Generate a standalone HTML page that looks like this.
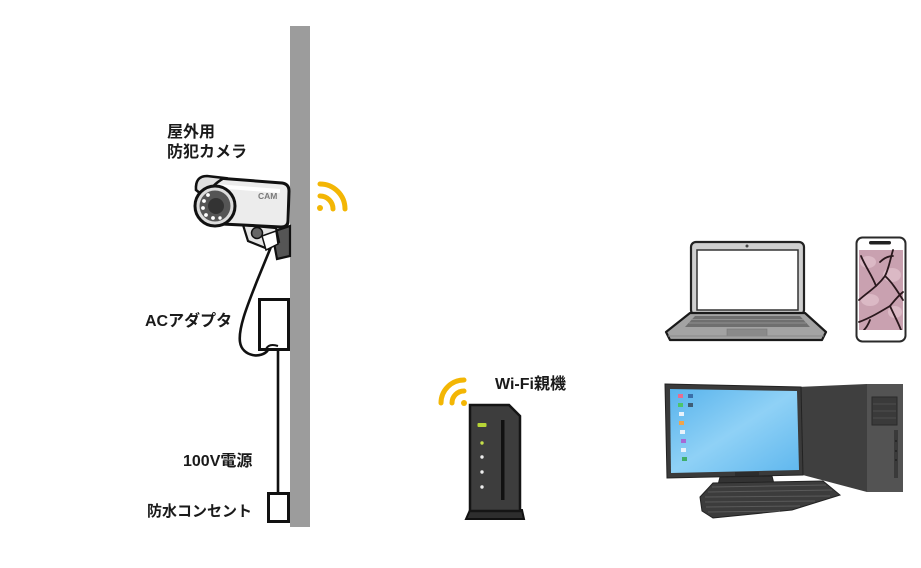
<!DOCTYPE html>
<html><head><meta charset="utf-8">
<style>
html,body{margin:0;padding:0;background:#fff;}
svg{display:block;}
text{font-family:"Liberation Sans","Noto Sans CJK JP",sans-serif;fill:#1a1a1a;font-weight:700;}
</style></head>
<body>
<svg width="921" height="568" viewBox="0 0 921 568" xmlns="http://www.w3.org/2000/svg">
<rect width="921" height="568" fill="#fff"/>
<!-- wall -->
<rect x="290" y="26" width="20" height="501" fill="#9c9c9c"/>

<!-- labels -->
<text x="167" y="137" font-size="16">屋外用</text>
<text x="167" y="157" font-size="16">防犯カメラ</text>
<text x="145" y="326" font-size="16">ACアダプタ</text>
<text x="183" y="466" font-size="16">100V電源</text>
<text x="147" y="516" font-size="15">防水コンセント</text>
<text x="495" y="389" font-size="16">Wi-Fi親機</text>

<!-- cable -->
<path d="M275,237 L257,281 C248,304 238,328 240,342 C242,357 262,359 268,350" fill="none" stroke="#111" stroke-width="2.6"/>
<line x1="278" y1="349" x2="278" y2="494" stroke="#111" stroke-width="2.6"/>
<rect x="259.5" y="299.5" width="29" height="50" fill="#fff" stroke="#111" stroke-width="3"/>
<path d="M266,349 C268,345 272,344 278,346" fill="none" stroke="#111" stroke-width="2"/>
<rect x="268.5" y="493.5" width="20" height="28" fill="#fff" stroke="#111" stroke-width="3"/>

<!-- camera mount -->
<polygon points="272,232 290,226 290,256 277,259" fill="#555" stroke="#111" stroke-width="2.2"/>
<polygon points="243,225 276,228 279,242 268,249 248,241" fill="#e6e6e6" stroke="#111" stroke-width="2.2"/>
<polygon points="262,236 276,231 278,244 266,250" fill="#fff" stroke="#111" stroke-width="1.5"/>
<circle cx="257" cy="233" r="5.5" fill="#666" stroke="#111" stroke-width="1.5"/>
<!-- camera housing -->
<path d="M204,177 L282,183 Q289,184 289,191 L288,221 Q288,227 281,227 L222,224 L210,214 Z" fill="#ececec" stroke="#111" stroke-width="3"/>
<path d="M215,186 L280,191" stroke="#fff" stroke-width="4"/>
<path d="M196,190 Q195,176 207,176 L224,178 Q210,186 206,198 Z" fill="#e0e0e0" stroke="#111" stroke-width="2.6"/>
<circle cx="215" cy="206" r="20" fill="#dcdcdc" stroke="#111" stroke-width="3"/>
<circle cx="215" cy="206" r="15.5" fill="#555"/>
<circle cx="216" cy="206" r="8" fill="#333"/>
<g fill="#fff">
<circle cx="204" cy="201" r="1.9"/><circle cx="203" cy="208" r="1.9"/><circle cx="206" cy="215" r="1.9"/>
<circle cx="213" cy="218" r="1.9"/><circle cx="208" cy="195" r="1.9"/><circle cx="220" cy="218" r="1.7"/>
</g>
<text x="258" y="199" font-size="8.5" style="fill:#7a7a7a;font-weight:700">CAM</text>

<!-- wifi camera -->
<g fill="none" stroke="#f3b604" stroke-width="5" stroke-linecap="round">
<path d="M320,196 A13,13 0 0 1 333,209"/>
<path d="M320,184 A25,25 0 0 1 345,209"/>
</g>
<circle cx="320" cy="208" r="3" fill="#f3b604"/>

<!-- wifi router icon -->
<g fill="none" stroke="#f3b604" stroke-width="5" stroke-linecap="round">
<path d="M452,403 A12,12 0 0 1 464,391"/>
<path d="M441,403 A23,23 0 0 1 464,380"/>
</g>
<circle cx="464" cy="403" r="3" fill="#f3b604"/>

<!-- router -->
<polygon points="466,519 470,510 522,510 524,519" fill="#2e2e2e" stroke="#111" stroke-width="2"/>
<polygon points="470,405 509,405 520,416 520,511 470,511" fill="#3d3d3d" stroke="#151515" stroke-width="2.5"/>
<rect x="501" y="420" width="3.5" height="80" fill="#111"/>
<rect x="477.5" y="423" width="9" height="4" rx="1" fill="#b7d536"/>
<circle cx="482" cy="443" r="1.7" fill="#c6e04a"/>
<circle cx="482" cy="457" r="1.7" fill="#eee"/>
<circle cx="482" cy="472" r="1.7" fill="#eee"/>
<circle cx="482" cy="487" r="1.7" fill="#eee"/>

<!-- laptop -->
<rect x="691" y="242" width="113" height="73" rx="5" fill="#cfcfcf" stroke="#222" stroke-width="2.2"/>
<rect x="697" y="250" width="101" height="60" fill="#fff" stroke="#333" stroke-width="1.5"/>
<circle cx="747" cy="246" r="1.5" fill="#444"/>
<polygon points="690,313 805,313 826,332 822,340 670,340 666,332" fill="#a3a3a3" stroke="#1a1a1a" stroke-width="2.2" stroke-linejoin="round"/>
<polygon points="695,316 800,316 810,327 685,327" fill="#6f6f6f"/>
<g stroke="#9a9a9a" stroke-width="0.8">
<line x1="692" y1="319.5" x2="803" y2="319.5"/><line x1="689" y1="323" x2="806" y2="323"/>
</g>
<rect x="727" y="329" width="40" height="7" fill="#8a8a8a" stroke="#777" stroke-width="0.6"/>
<line x1="668" y1="336" x2="824" y2="336" stroke="#888" stroke-width="1"/>

<!-- phone -->
<rect x="856.5" y="237.5" width="49" height="104" rx="6" fill="#fff" stroke="#2a2a2a" stroke-width="2"/>
<rect x="869" y="241" width="22" height="3.5" rx="1.7" fill="#222"/>
<rect x="859" y="250" width="44" height="80" fill="#c9a1b0"/>
<g fill="#e0bfcb" opacity="0.8">
<ellipse cx="868" cy="262" rx="8" ry="6"/><ellipse cx="892" cy="275" rx="9" ry="7"/>
<ellipse cx="870" cy="300" rx="9" ry="6"/><ellipse cx="895" cy="312" rx="7" ry="6"/>
</g>
<g fill="none" stroke="#2a181d" stroke-width="1.8" stroke-linecap="round">
<path d="M859,300 C868,292 878,286 885,276 C889,268 890,260 893,250"/>
<path d="M885,276 C892,282 898,292 903,300"/>
<path d="M876,286 C872,275 866,268 861,256"/>
<path d="M859,322 C870,318 880,312 890,306 C895,300 898,296 903,292"/>
<path d="M890,306 C894,315 898,322 901,330"/>
<path d="M870,320 C868,325 866,328 864,330"/>
<path d="M880,262 C884,258 888,256 893,256"/>
</g>
<rect x="859" y="330" width="44" height="9" fill="#fff"/>

<!-- tower -->
<polygon points="797,387 867,384 867,492 799,474" fill="#3f3f3f"/>
<rect x="867" y="384" width="36" height="108" fill="#535353"/>
<rect x="872" y="397" width="25" height="28" fill="#3a3a3a" stroke="#2a2a2a" stroke-width="1"/>
<g stroke="#555" stroke-width="0.8"><line x1="873" y1="404" x2="896" y2="404"/><line x1="873" y1="411" x2="896" y2="411"/><line x1="873" y1="418" x2="896" y2="418"/></g>
<rect x="894" y="430" width="4" height="48" fill="#3a3a3a"/>
<g fill="#222"><circle cx="896" cy="441" r="1"/><circle cx="896" cy="451" r="1"/><circle cx="896" cy="460" r="1"/></g>

<!-- desktop monitor -->
<polygon points="665,384 801,387 803,475 667,478" fill="#3a3a3a" stroke="#222" stroke-width="1"/>
<defs>
<linearGradient id="scr" x1="0" y1="0" x2="1" y2="1">
<stop offset="0" stop-color="#58b3ec"/><stop offset="0.5" stop-color="#8fd1f6"/><stop offset="1" stop-color="#5fb7ee"/>
</linearGradient>
</defs>
<polygon points="670,389 797,391 799,470 671,473" fill="url(#scr)"/>
<g>
<rect x="678" y="394" width="5" height="4" fill="#e86d8f"/><rect x="688" y="394" width="5" height="4" fill="#3a6fa8"/>
<rect x="678" y="403" width="5" height="4" fill="#4cc46a"/><rect x="688" y="403" width="5" height="4" fill="#3f5d76"/>
<rect x="679" y="412" width="5" height="4" fill="#e8f2fb"/>
<rect x="679" y="421" width="5" height="4" fill="#f0a44a"/>
<rect x="680" y="430" width="5" height="4" fill="#e8f2fb"/>
<rect x="681" y="439" width="5" height="4" fill="#a66ad6"/>
<rect x="681" y="448" width="5" height="4" fill="#e8f2fb"/>
<rect x="682" y="457" width="5" height="4" fill="#3fae6a"/>
</g>
<rect x="735" y="472" width="24" height="6" fill="#2c2c2c"/>
<polygon points="720,477 772,476 774,484 718,485" fill="#333" stroke="#222" stroke-width="1"/>

<!-- keyboard -->
<polygon points="700,497 713,483 823,481 840,495 792,510 713,518 702,511" fill="#3c3c3c" stroke="#222" stroke-width="1"/>
<g stroke="#5a5a5a" stroke-width="1">
<line x1="712" y1="487" x2="826" y2="485"/><line x1="708" y1="492" x2="832" y2="490"/>
<line x1="705" y1="497" x2="830" y2="496"/><line x1="705" y1="502" x2="815" y2="501"/>
<line x1="706" y1="507" x2="800" y2="506"/><line x1="708" y1="512" x2="780" y2="511"/>
</g>
</svg>
</body></html>
